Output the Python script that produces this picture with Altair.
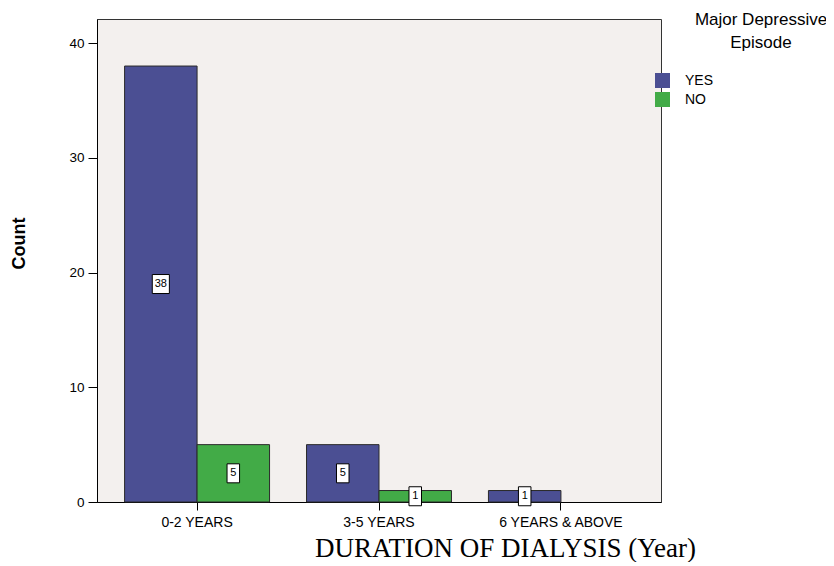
import altair as alt
import pandas as pd

categories = ["0-2 YEARS", "3-5 YEARS", "6 YEARS & ABOVE"]
groups = ["YES", "NO"]
yes_counts = [38, 5, 1]
no_counts = [5, 1, 0]
colors = ["#4b4f93", "#42ab47"]

rows = []
for c, y, n in zip(categories, yes_counts, no_counts):
    for g, v in (("YES", y), ("NO", n)):
        if v > 0:
            rows.append({"cat": c, "grp": g, "count": v, "mid": v / 2, "digits": str(len(str(v)))})
df = pd.DataFrame(rows)

x_enc = alt.X("cat:N", sort=categories,
              scale=alt.Scale(paddingInner=0, paddingOuter=0.05),
              axis=alt.Axis(title="DURATION OF DIALYSIS (Year)", labelAngle=0,
                            labelFontSize=14, labelFont="Liberation Sans", labelColor="black",
                            tickSize=8, tickColor="black", domainColor="black", labelPadding=5,
                            titleFont="Liberation Serif", titleFontSize=27, titleFontWeight="normal",
                            titleColor="black", titleX=408, titleY=54, titleBaseline="alphabetic",
                            titleAlign="center", titleAnchor="start"))
xo_enc = alt.XOffset("grp:N", sort=groups, scale=alt.Scale(paddingOuter=0.255, paddingInner=0))

bars = alt.Chart(df).mark_bar(stroke="#2a2a2a", strokeWidth=1).encode(
    x=x_enc,
    xOffset=xo_enc,
    y=alt.Y("count:Q", scale=alt.Scale(domain=[0, 42.1], nice=False, zero=True),
            axis=alt.Axis(title="Count", values=[0, 10, 20, 30, 40], grid=False,
                          labelFontSize=13.5, labelFont="Liberation Sans", labelColor="black",
                          tickSize=9, tickColor="black", domainColor="black", labelPadding=4,
                          titleFont="Liberation Sans", titleFontSize=18, titleFontWeight="bold",
                          titleColor="black", titleX=-78, titleY=224, titleAngle=-90,
                          titleBaseline="middle", titleAlign="center", titleAnchor="start")),
    color=alt.Color("grp:N", sort=groups,
                    scale=alt.Scale(domain=groups, range=colors),
                    legend=alt.Legend(title=None, orient="none", legendX=558, legendY=54,
                                      symbolType="square", symbolSize=225, symbolStrokeWidth=0,
                                      labelFontSize=14, labelFont="Liberation Sans",
                                      labelColor="black", labelOffset=15, rowPadding=4,
                                      padding=0)),
)

boxes = alt.Chart(df).mark_point(filled=True, fill="white", stroke="black", strokeWidth=1,
                                 opacity=1, size=361).encode(
    x=alt.X("cat:N", sort=categories),
    xOffset=alt.XOffset("grp:N", sort=groups),
    y=alt.Y("mid:Q"),
    shape=alt.Shape("digits:N", scale=alt.Scale(domain=["1", "2"],
                    range=["M-0.66,-1H0.66V1H-0.66Z", "M-0.9,-1H0.9V1H-0.9Z"]), legend=None),
)

labels = alt.Chart(df).mark_text(fontSize=11, font="Liberation Sans", color="black",
                                 baseline="middle", align="center").encode(
    x=alt.X("cat:N", sort=categories),
    xOffset=alt.XOffset("grp:N", sort=groups),
    y=alt.Y("mid:Q"),
    text=alt.Text("count:Q"),
)

legend_title = alt.Chart(pd.DataFrame({"t": ["Major Depressive\nEpisode"]})).mark_text(
    fontSize=17, font="Liberation Sans", color="black", align="center",
    baseline="alphabetic", lineBreak="\n", lineHeight=23).encode(
    text="t:N", x=alt.value(664), y=alt.value(6))

chart = alt.layer(bars, boxes, labels, legend_title).properties(
    width=564, height=483,
    autosize=alt.AutoSizeParams(type="none"),
    padding={"left": 89, "top": 11, "right": 165, "bottom": 60},
    background="white",
).configure_view(fill="#f3f0ee", stroke="#333333", strokeWidth=1)

chart.save("out.html", embed_options={"renderer": "svg", "actions": False})
